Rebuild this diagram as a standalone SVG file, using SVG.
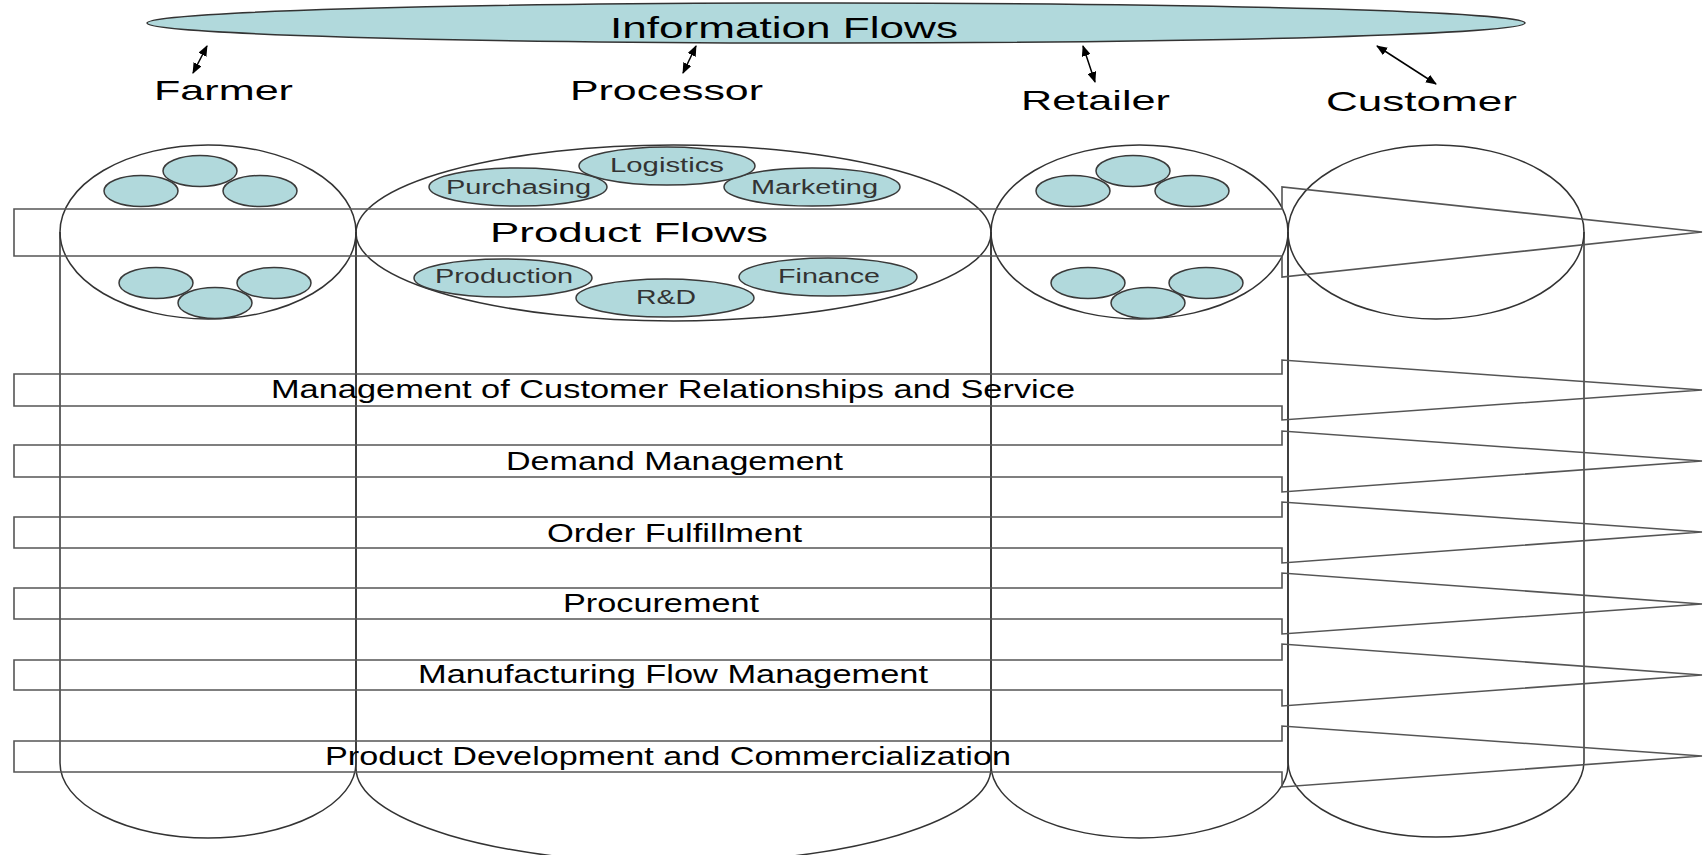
<svg xmlns="http://www.w3.org/2000/svg" width="1708" height="855" viewBox="0 0 1708 855">
<style>
text{font-family:"Liberation Sans",Arial,sans-serif;fill:#000}
.col{fill:none;stroke:#333;stroke-width:1.5}
.sub{fill:#b1d9dc;stroke:#3a3a3a;stroke-width:1.5}
.band{fill:none;stroke:#555;stroke-width:1.6;stroke-linejoin:miter}
.lbl{font-size:20px;fill:#333}
.big{font-size:28px}
.bl{font-size:25px}
.ia{stroke:#000;stroke-width:1.5;fill:none;marker-start:url(#ah);marker-end:url(#ah)}
</style>
<defs>
<marker id="ah" markerUnits="userSpaceOnUse" markerWidth="11" markerHeight="9" refX="10" refY="4.5" orient="auto-start-reverse"><path d="M0,0 L11,4.5 L0,9 z" fill="#000"/></marker>
</defs>
<rect width="1708" height="855" fill="#fff"/>

<g id="information-flows">
<ellipse cx="836" cy="23" rx="689" ry="20" fill="#b1d9dc" stroke="#333" stroke-width="1.5"/>
<text x="610" y="38" font-size="29" textLength="348" lengthAdjust="spacingAndGlyphs">Information Flows</text>
</g>

<g id="farmer">
<path class="col" d="M60,232 V763 A148,75 0 0 0 356,763 V232"/>
<ellipse class="col" cx="208" cy="232" rx="148" ry="87"/>
<ellipse class="sub" cx="141" cy="191" rx="37" ry="15.5"/>
<ellipse class="sub" cx="260" cy="191" rx="37" ry="15.5"/>
<ellipse class="sub" cx="200" cy="171" rx="37" ry="15.5"/>
<ellipse class="sub" cx="156" cy="283" rx="37" ry="15.5"/>
<ellipse class="sub" cx="274" cy="283" rx="37" ry="15.5"/>
<ellipse class="sub" cx="215" cy="303" rx="37" ry="15.5"/>
<text class="big" x="154" y="100" textLength="139" lengthAdjust="spacingAndGlyphs">Farmer</text>
</g>

<g id="processor">
<path class="col" d="M356,232 V768 A317.5,95 0 0 0 991,768 V232"/>
<ellipse class="col" cx="673.5" cy="233" rx="317.5" ry="88"/>
<ellipse class="sub" cx="518" cy="187" rx="89" ry="19"/>
<ellipse class="sub" cx="812" cy="187" rx="88" ry="19"/>
<ellipse class="sub" cx="667" cy="166" rx="88" ry="19"/>
<ellipse class="sub" cx="503" cy="278" rx="89" ry="19"/>
<ellipse class="sub" cx="828" cy="277" rx="89" ry="19"/>
<ellipse class="sub" cx="665" cy="298" rx="89" ry="19"/>
<text class="lbl" x="446" y="194" textLength="145" lengthAdjust="spacingAndGlyphs">Purchasing</text>
<text class="lbl" x="610" y="172" textLength="114" lengthAdjust="spacingAndGlyphs">Logistics</text>
<text class="lbl" x="751" y="194" textLength="127" lengthAdjust="spacingAndGlyphs">Marketing</text>
<text class="lbl" x="435" y="283" textLength="138" lengthAdjust="spacingAndGlyphs">Production</text>
<text class="lbl" x="636" y="304" textLength="60" lengthAdjust="spacingAndGlyphs">R&amp;D</text>
<text class="lbl" x="778" y="283" textLength="102" lengthAdjust="spacingAndGlyphs">Finance</text>
<text class="big" x="570" y="100" textLength="193" lengthAdjust="spacingAndGlyphs">Processor</text>
</g>

<g id="retailer">
<path class="col" d="M991,232 V765 A148.5,73 0 0 0 1288,765 V232"/>
<ellipse class="col" cx="1139.5" cy="232" rx="148.5" ry="87"/>
<ellipse class="sub" cx="1073" cy="191" rx="37" ry="15.5"/>
<ellipse class="sub" cx="1192" cy="191" rx="37" ry="15.5"/>
<ellipse class="sub" cx="1133" cy="171" rx="37" ry="15.5"/>
<ellipse class="sub" cx="1088" cy="283" rx="37" ry="15.5"/>
<ellipse class="sub" cx="1206" cy="283" rx="37" ry="15.5"/>
<ellipse class="sub" cx="1148" cy="303" rx="37" ry="15.5"/>
<text class="big" x="1021" y="110" textLength="149" lengthAdjust="spacingAndGlyphs">Retailer</text>
</g>

<g id="customer">
<path class="col" d="M1288,232 V761 A148,76 0 0 0 1584,761 V232"/>
<ellipse class="col" cx="1436" cy="232" rx="148" ry="87"/>
<text class="big" x="1326" y="111" textLength="191" lengthAdjust="spacingAndGlyphs">Customer</text>
</g>

<g id="product-flows">
<path class="band" d="M14,209 H1282 V187 L1702,232 L1282,277 V256 H14 Z"/>
<text class="big" x="490" y="242" textLength="278" lengthAdjust="spacingAndGlyphs">Product Flows</text>
</g>

<g id="process-customer-relationships">
<path class="band" d="M14,374 H1282 V360 L1702,390 L1282,420 V406 H14 Z"/>
<text class="bl" x="271" y="398" textLength="804" lengthAdjust="spacingAndGlyphs">Management of Customer Relationships and Service</text>
</g>
<g id="process-demand">
<path class="band" d="M14,445 H1282 V431 L1702,461 L1282,492 V477 H14 Z"/>
<text class="bl" x="506" y="470" textLength="337" lengthAdjust="spacingAndGlyphs">Demand Management</text>
</g>
<g id="process-order">
<path class="band" d="M14,517 H1282 V502 L1702,532 L1282,563 V548 H14 Z"/>
<text class="bl" x="547" y="542" textLength="255" lengthAdjust="spacingAndGlyphs">Order Fulfillment</text>
</g>
<g id="process-procurement">
<path class="band" d="M14,588 H1282 V573 L1702,604 L1282,634 V619 H14 Z"/>
<text class="bl" x="563" y="612" textLength="196" lengthAdjust="spacingAndGlyphs">Procurement</text>
</g>
<g id="process-manufacturing">
<path class="band" d="M14,660 H1282 V644 L1702,675 L1282,706 V690 H14 Z"/>
<text class="bl" x="418" y="683" textLength="510" lengthAdjust="spacingAndGlyphs">Manufacturing Flow Management</text>
</g>
<g id="process-product-development">
<path class="band" d="M14,741 H1282 V726 L1702,756 L1282,787 V772 H14 Z"/>
<text class="bl" x="325" y="765" textLength="686" lengthAdjust="spacingAndGlyphs">Product Development and Commercialization</text>
</g>

<g id="connectors">
<line class="ia" x1="207" y1="46" x2="193" y2="73"/>
<line class="ia" x1="696" y1="46" x2="683" y2="73"/>
<line class="ia" x1="1083" y1="46" x2="1095" y2="82"/>
<line class="ia" x1="1377" y1="46" x2="1436" y2="84"/>
</g>
</svg>
